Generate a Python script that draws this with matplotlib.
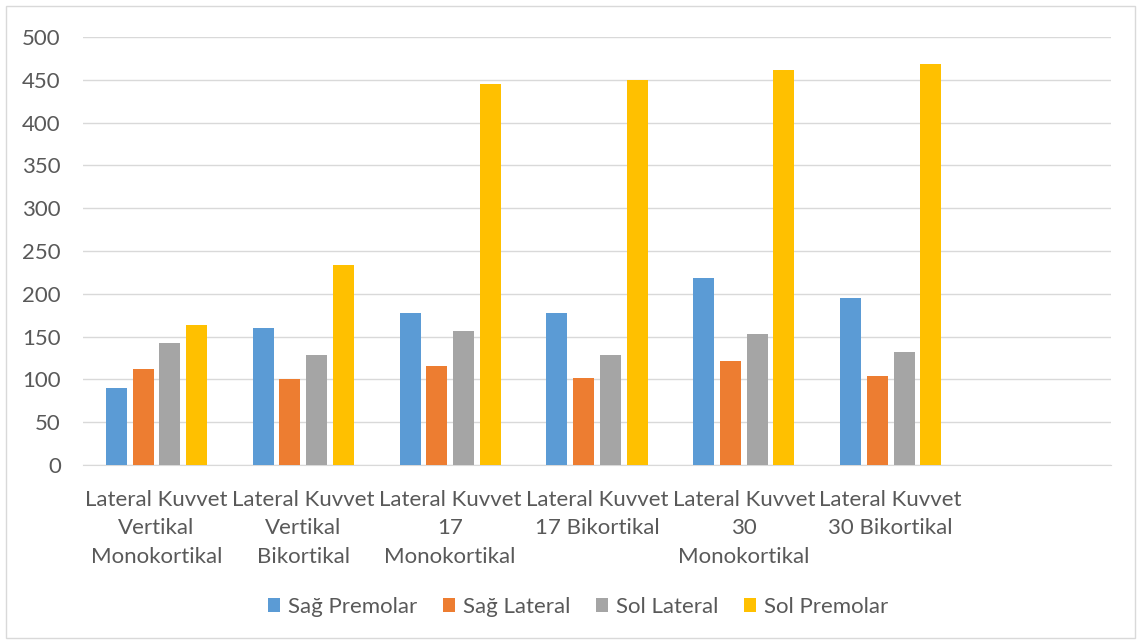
import matplotlib.pyplot as plt
import numpy as np
from matplotlib.patches import Rectangle

plt.rcParams['font.family'] = ['Lato', 'DejaVu Sans']

categories = [
    "Lateral Kuvvet\nVertikal\nMonokortikal",
    "Lateral Kuvvet\nVertikal\nBikortikal",
    "Lateral Kuvvet\n17\nMonokortikal",
    "Lateral Kuvvet\n17 Bikortikal",
    "Lateral Kuvvet\n30\nMonokortikal",
    "Lateral Kuvvet\n30 Bikortikal",
    "",
]
sag_premolar = [90, 160, 177, 178, 219, 195]
sag_lateral = [112, 100, 116, 102, 122, 104]
sol_lateral = [143, 129, 156, 128, 153, 132]
sol_premolar = [164, 234, 445, 450, 461, 468]

series = [
    ("Sağ Premolar", sag_premolar, "#5B9BD5"),
    ("Sağ Lateral", sag_lateral, "#ED7D31"),
    ("Sol Lateral", sol_lateral, "#A5A5A5"),
    ("Sol Premolar", sol_premolar, "#FFC000"),
]

fig = plt.figure(figsize=(11.41, 6.44), dpi=100)
ax = fig.add_axes([83 / 1141, 1 - 465 / 644, 1028 / 1141, 428 / 644])

# chart border
fig.patches.append(Rectangle((6 / 1141, 6 / 644), 1129 / 1141, 632 / 644,
                             transform=fig.transFigure, fill=False,
                             edgecolor="#D9D9D9", linewidth=1))

n = len(sag_premolar)
x = np.arange(n)
width = 0.143
step = 0.182
for i, (name, vals, col) in enumerate(series):
    ax.bar(x + (i - 1.5) * step, vals, width, color=col, label=name, zorder=3)

ax.set_xlim(-0.5, len(categories) - 0.5)
ax.set_ylim(0, 500)
ax.set_yticks(range(0, 501, 50))
ax.set_xticks(range(len(categories)))
ax.set_xticklabels(categories, linespacing=1.52)
ax.yaxis.grid(True, color="#D9D9D9", linewidth=1, zorder=0)
for s in ["top", "right", "left"]:
    ax.spines[s].set_visible(False)
ax.spines["bottom"].set_color("#D9D9D9")
ax.tick_params(axis="both", length=0, labelcolor="#595959", labelsize=16)
ax.tick_params(axis="y", pad=16)
ax.tick_params(axis="x", pad=18)

leg = fig.legend(loc="center", bbox_to_anchor=(578 / 1141, 1 - 607 / 644),
                 ncol=4, frameon=False, fontsize=16, handlelength=0.55,
                 handleheight=0.55, handletextpad=0.35, columnspacing=1.15)
for t in leg.get_texts():
    t.set_color("#595959")

fig.savefig("out.png", dpi=100)
